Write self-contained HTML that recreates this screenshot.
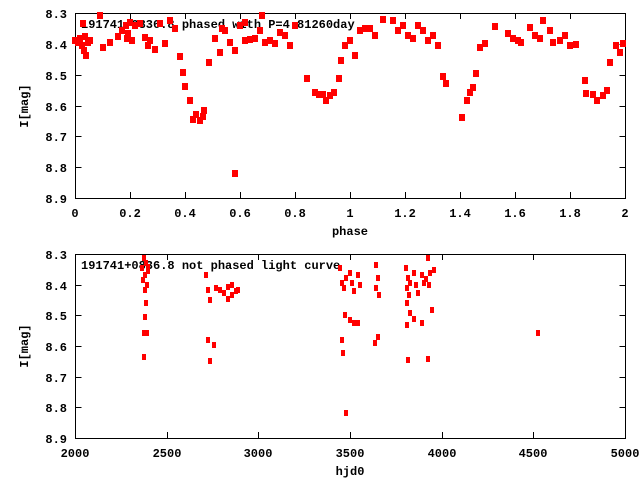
<!DOCTYPE html><html><head><style>body{margin:0;background:#fff}svg{display:block}text{font-family:"Liberation Mono",monospace;font-size:12px;font-weight:bold}</style></head><body>
<svg width="640" height="480" xmlns="http://www.w3.org/2000/svg">
<g stroke="#000" fill="none" stroke-width="1">
<rect x="75.5" y="13.5" width="550" height="185"/>
<rect x="75.5" y="254.5" width="550" height="184"/>
<path d="M75.5 44.5h6M75.5 75.5h6M75.5 106.5h6M75.5 136.5h6M75.5 167.5h6M625.5 44.5h-6M625.5 75.5h-6M625.5 106.5h-6M625.5 136.5h-6M625.5 167.5h-6
M130.5 198v-6M185.5 198v-6M240.5 198v-6M295.5 198v-6M350.5 198v-6M405.5 198v-6M460.5 198v-6M515.5 198v-6M570.5 198v-6
M130.5 13v6M185.5 13v6M240.5 13v6M295.5 13v6M350.5 13v6M405.5 13v6M460.5 13v6M515.5 13v6M570.5 13v6
M75.5 285.5h6M75.5 315.5h6M75.5 346.5h6M75.5 377.5h6M75.5 407.5h6M625.5 285.5h-6M625.5 315.5h-6M625.5 346.5h-6M625.5 377.5h-6M625.5 407.5h-6
M167.5 438v-6M258.5 438v-6M350.5 438v-6M442.5 438v-6M533.5 438v-6M167.5 254v6M258.5 254v6M350.5 254v6M442.5 254v6M533.5 254v6"/>
</g>
<g text-anchor="end">
<text x="67" y="18">8.3</text><text x="67" y="49">8.4</text><text x="67" y="80">8.5</text><text x="67" y="111">8.6</text><text x="67" y="141">8.7</text><text x="67" y="172">8.8</text><text x="67" y="203">8.9</text>
<text x="67" y="259">8.3</text><text x="67" y="290">8.4</text><text x="67" y="320">8.5</text><text x="67" y="351">8.6</text><text x="67" y="382">8.7</text><text x="67" y="412">8.8</text><text x="67" y="443">8.9</text>
</g>
<g text-anchor="middle">
<text x="75" y="217">0</text><text x="130" y="217">0.2</text><text x="185" y="217">0.4</text><text x="240" y="217">0.6</text><text x="295" y="217">0.8</text><text x="350" y="217">1</text><text x="405" y="217">1.2</text><text x="460" y="217">1.4</text><text x="515" y="217">1.6</text><text x="570" y="217">1.8</text><text x="625" y="217">2</text>
<text x="350" y="235">phase</text>
<text x="75" y="457">2000</text><text x="167" y="457">2500</text><text x="258" y="457">3000</text><text x="350" y="457">3500</text><text x="442" y="457">4000</text><text x="533" y="457">4500</text><text x="625" y="457">5000</text>
<text x="350" y="475">hjd0</text>
<text transform="translate(28,106) rotate(-90)">I[mag]</text>
<text transform="translate(28,346) rotate(-90)">I[mag]</text>
</g>
<text x="81" y="28">191741+0836.8 phased with P=4.81260day</text>
<text x="81" y="269">191741+0836.8 not phased light curve</text>
<g fill="#f00" id="top">
<script>/* none */</script>
</g>
<g fill="#f00">
<path d="" id="tp"/>
</g>
<g fill="#f00">
<rect x="72" y="37" width="6" height="7"/><rect x="75" y="39" width="6" height="7"/><rect x="77" y="35" width="6" height="7"/><rect x="79" y="42" width="6" height="7"/><rect x="81" y="47" width="6" height="7"/><rect x="83" y="52" width="6" height="7"/><rect x="85" y="39" width="6" height="7"/><rect x="87" y="37" width="6" height="7"/><rect x="82" y="33" width="6" height="7"/><rect x="80" y="20" width="6" height="7"/><rect x="97" y="12" width="6" height="7"/><rect x="100" y="44" width="6" height="7"/><rect x="107" y="39" width="6" height="7"/><rect x="115" y="33" width="6" height="7"/><rect x="119" y="27" width="6" height="7"/><rect x="123" y="22" width="6" height="7"/><rect x="127" y="19" width="6" height="7"/><rect x="125" y="30" width="6" height="7"/><rect x="124" y="35" width="6" height="7"/><rect x="129" y="37" width="6" height="7"/><rect x="132" y="22" width="6" height="7"/><rect x="137" y="20" width="6" height="7"/><rect x="142" y="34" width="6" height="7"/><rect x="145" y="42" width="6" height="7"/><rect x="147" y="37" width="6" height="7"/><rect x="152" y="46" width="6" height="7"/><rect x="157" y="20" width="6" height="7"/><rect x="162" y="40" width="6" height="7"/><rect x="167" y="17" width="6" height="7"/><rect x="172" y="25" width="6" height="7"/><rect x="177" y="53" width="6" height="7"/><rect x="180" y="69" width="6" height="7"/><rect x="182" y="83" width="6" height="7"/><rect x="187" y="97" width="6" height="7"/><rect x="193" y="111" width="6" height="7"/><rect x="190" y="116" width="6" height="7"/><rect x="197" y="117" width="6" height="7"/><rect x="200" y="113" width="6" height="7"/><rect x="201" y="107" width="6" height="7"/><rect x="206" y="59" width="6" height="7"/><rect x="212" y="35" width="6" height="7"/><rect x="217" y="49" width="6" height="7"/><rect x="219" y="25" width="6" height="7"/><rect x="222" y="27" width="6" height="7"/><rect x="227" y="39" width="6" height="7"/><rect x="232" y="47" width="6" height="7"/><rect x="232" y="170" width="6" height="7"/><rect x="242" y="19" width="6" height="7"/><rect x="237" y="22" width="6" height="7"/><rect x="242" y="37" width="6" height="7"/><rect x="247" y="36" width="6" height="7"/><rect x="252" y="35" width="6" height="7"/><rect x="257" y="27" width="6" height="7"/><rect x="259" y="12" width="6" height="7"/><rect x="262" y="39" width="6" height="7"/><rect x="267" y="37" width="6" height="7"/><rect x="272" y="40" width="6" height="7"/><rect x="277" y="29" width="6" height="7"/><rect x="282" y="32" width="6" height="7"/><rect x="287" y="42" width="6" height="7"/><rect x="292" y="22" width="6" height="7"/><rect x="304" y="75" width="6" height="7"/><rect x="312" y="89" width="6" height="7"/><rect x="316" y="91" width="6" height="7"/><rect x="320" y="91" width="6" height="7"/><rect x="323" y="97" width="6" height="7"/><rect x="327" y="92" width="6" height="7"/><rect x="331" y="89" width="6" height="7"/><rect x="336" y="75" width="6" height="7"/><rect x="338" y="57" width="6" height="7"/><rect x="342" y="42" width="6" height="7"/><rect x="347" y="37" width="6" height="7"/><rect x="352" y="52" width="6" height="7"/><rect x="357" y="27" width="6" height="7"/><rect x="362" y="25" width="6" height="7"/><rect x="367" y="25" width="6" height="7"/><rect x="372" y="32" width="6" height="7"/><rect x="380" y="16" width="6" height="7"/><rect x="390" y="17" width="6" height="7"/><rect x="395" y="27" width="6" height="7"/><rect x="400" y="22" width="6" height="7"/><rect x="405" y="32" width="6" height="7"/><rect x="410" y="35" width="6" height="7"/><rect x="415" y="22" width="6" height="7"/><rect x="420" y="27" width="6" height="7"/><rect x="425" y="37" width="6" height="7"/><rect x="430" y="32" width="6" height="7"/><rect x="435" y="42" width="6" height="7"/><rect x="440" y="73" width="6" height="7"/><rect x="443" y="80" width="6" height="7"/><rect x="459" y="114" width="6" height="7"/><rect x="464" y="97" width="6" height="7"/><rect x="467" y="89" width="6" height="7"/><rect x="470" y="84" width="6" height="7"/><rect x="473" y="70" width="6" height="7"/><rect x="477" y="44" width="6" height="7"/><rect x="482" y="40" width="6" height="7"/><rect x="492" y="23" width="6" height="7"/><rect x="505" y="30" width="6" height="7"/><rect x="510" y="35" width="6" height="7"/><rect x="515" y="37" width="6" height="7"/><rect x="518" y="39" width="6" height="7"/><rect x="527" y="24" width="6" height="7"/><rect x="532" y="32" width="6" height="7"/><rect x="537" y="35" width="6" height="7"/><rect x="540" y="17" width="6" height="7"/><rect x="547" y="27" width="6" height="7"/><rect x="550" y="39" width="6" height="7"/><rect x="557" y="37" width="6" height="7"/><rect x="562" y="32" width="6" height="7"/><rect x="567" y="42" width="6" height="7"/><rect x="573" y="41" width="6" height="7"/><rect x="582" y="77" width="6" height="7"/><rect x="583" y="90" width="6" height="7"/><rect x="590" y="91" width="6" height="7"/><rect x="594" y="97" width="6" height="7"/><rect x="600" y="92" width="6" height="7"/><rect x="604" y="87" width="6" height="7"/><rect x="607" y="59" width="6" height="7"/><rect x="613" y="42" width="6" height="7"/><rect x="617" y="49" width="6" height="7"/><rect x="620" y="40" width="6" height="7"/>
</g>
<g fill="#f00">
<rect x="142" y="255" width="4" height="6"/><rect x="144" y="260" width="4" height="6"/><rect x="140" y="265" width="4" height="6"/><rect x="146" y="268" width="4" height="6"/><rect x="143" y="272" width="4" height="6"/><rect x="141" y="277" width="4" height="6"/><rect x="145" y="282" width="4" height="6"/><rect x="143" y="287" width="4" height="6"/><rect x="146" y="264" width="4" height="6"/><rect x="144" y="300" width="4" height="6"/><rect x="143" y="314" width="4" height="6"/><rect x="142" y="330" width="4" height="6"/><rect x="145" y="330" width="4" height="6"/><rect x="142" y="354" width="4" height="6"/>
<rect x="204" y="272" width="4" height="6"/><rect x="206" y="287" width="4" height="6"/><rect x="208" y="297" width="4" height="6"/><rect x="206" y="337" width="4" height="6"/><rect x="208" y="358" width="4" height="6"/><rect x="212" y="342" width="4" height="6"/><rect x="214" y="285" width="4" height="6"/><rect x="218" y="287" width="4" height="6"/><rect x="222" y="290" width="4" height="6"/><rect x="226" y="284" width="4" height="6"/><rect x="230" y="292" width="4" height="6"/><rect x="234" y="288" width="4" height="6"/><rect x="226" y="296" width="4" height="6"/><rect x="230" y="282" width="4" height="6"/><rect x="236" y="287" width="4" height="6"/>
<rect x="338" y="265" width="4" height="6"/><rect x="340" y="280" width="4" height="6"/><rect x="342" y="285" width="4" height="6"/><rect x="344" y="275" width="4" height="6"/><rect x="343" y="312" width="4" height="6"/><rect x="340" y="337" width="4" height="6"/><rect x="341" y="350" width="4" height="6"/><rect x="344" y="410" width="4" height="6"/><rect x="348" y="270" width="4" height="6"/><rect x="350" y="280" width="4" height="6"/><rect x="352" y="288" width="4" height="6"/><rect x="348" y="317" width="4" height="6"/><rect x="352" y="320" width="4" height="6"/><rect x="356" y="272" width="4" height="6"/><rect x="358" y="282" width="4" height="6"/><rect x="356" y="320" width="4" height="6"/><rect x="374" y="262" width="4" height="6"/><rect x="376" y="275" width="4" height="6"/><rect x="374" y="285" width="4" height="6"/><rect x="377" y="292" width="4" height="6"/><rect x="376" y="334" width="4" height="6"/><rect x="373" y="340" width="4" height="6"/>
<rect x="404" y="265" width="4" height="6"/><rect x="406" y="275" width="4" height="6"/><rect x="405" y="285" width="4" height="6"/><rect x="407" y="292" width="4" height="6"/><rect x="405" y="300" width="4" height="6"/><rect x="408" y="310" width="4" height="6"/><rect x="405" y="322" width="4" height="6"/><rect x="406" y="357" width="4" height="6"/><rect x="408" y="280" width="4" height="6"/><rect x="412" y="270" width="4" height="6"/><rect x="414" y="282" width="4" height="6"/><rect x="412" y="316" width="4" height="6"/><rect x="416" y="290" width="4" height="6"/><rect x="420" y="272" width="4" height="6"/><rect x="422" y="280" width="4" height="6"/><rect x="420" y="320" width="4" height="6"/><rect x="424" y="276" width="4" height="6"/><rect x="426" y="255" width="4" height="6"/><rect x="428" y="270" width="4" height="6"/><rect x="427" y="282" width="4" height="6"/><rect x="426" y="356" width="4" height="6"/><rect x="430" y="307" width="4" height="6"/><rect x="432" y="267" width="4" height="6"/>
<rect x="536" y="330" width="4" height="6"/>
</g>
</svg></body></html>
